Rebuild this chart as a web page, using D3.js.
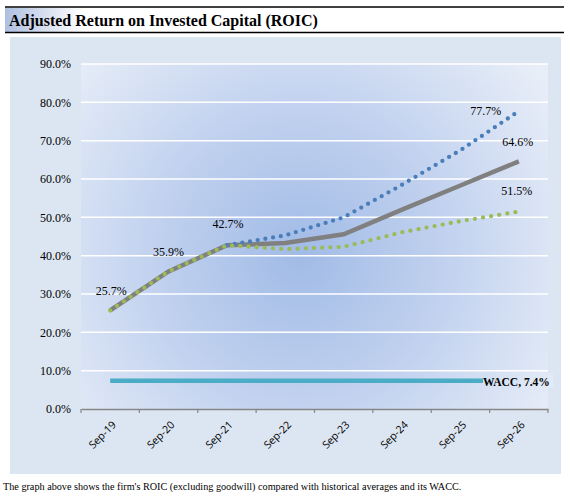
<!DOCTYPE html>
<html><head><meta charset="utf-8">
<script src="https://cdn.jsdelivr.net/npm/d3@7"></script>
<style>body{margin:0;background:#fff}svg{display:block}</style>
</head><body>
<script>
const categories = ["Sep-19","Sep-20","Sep-21","Sep-22","Sep-23","Sep-24","Sep-25","Sep-26"];
const roic = [25.7, 35.9, 42.7, 43.3, 45.6, 52.0, 58.3, 64.6];
const roicHigh = [null, null, 42.7, 45.3, 50.0, 58.5, 67.5, 77.7];
const roicLow = [25.7, 35.9, 42.7, 41.7, 42.3, 46.1, 49.0, 51.5];
const wacc = [7.4, 7.4, 7.4, 7.4, 7.4, 7.4, 7.4, 7.4];
const yTicks = [0,10,20,30,40,50,60,70,80,90];
const titleText = "Adjusted Return on Invested Capital (ROIC)";
const captionText = "The graph above shows the firm's ROIC (excluding goodwill) compared with historical averages and its WACC.";

const W = 570, H = 496;
const svg = d3.select("body").append("svg").attr("width", W).attr("height", H);
const defs = svg.append("defs");
const tg = defs.append("linearGradient").attr("id","tg").attr("x1","0").attr("x2","1").attr("y1","0").attr("y2","0");
tg.append("stop").attr("offset","0").attr("stop-color","#aebfe0");
tg.append("stop").attr("offset","0.14").attr("stop-color","#ffffff");
tg.append("stop").attr("offset","1").attr("stop-color","#ffffff");

const rg = defs.append("radialGradient").attr("id","rg").attr("gradientUnits","userSpaceOnUse")
  .attr("cx",300).attr("cy",255).attr("r",300);
rg.append("stop").attr("offset","0").attr("stop-color","#a1bbe6");
rg.append("stop").attr("offset","0.5").attr("stop-color","#c2d2ef");
rg.append("stop").attr("offset","1").attr("stop-color","#e8eef8");

// title
svg.append("rect").attr("x",5).attr("y",8).attr("width",559).attr("height",24).attr("fill","url(#tg)");
svg.append("line").attr("x1",5).attr("x2",564).attr("y1",7).attr("y2",7).attr("stroke","#000").attr("stroke-width",1.5);
svg.append("line").attr("x1",5).attr("x2",564).attr("y1",32.5).attr("y2",32.5).attr("stroke","#000").attr("stroke-width",1.5);
svg.append("text").attr("x",9).attr("y",26).attr("font-family","Liberation Serif").attr("font-weight","bold")
  .attr("font-size",16).attr("fill","#000").text(titleText);

// panel
svg.append("rect").attr("x",10).attr("y",37).attr("width",551).attr("height",437).attr("fill","#dce6f2");

const m = {l:81, r:548, t:64, b:409};
svg.append("rect").attr("x",m.l).attr("y",m.t).attr("width",m.r-m.l).attr("height",m.b-m.t).attr("fill","url(#rg)");

const x = d3.scaleBand().domain(categories).range([m.l, m.r]);
const y = d3.scaleLinear().domain([0,90]).range([m.b, m.t]);
const cx = d => x(d) + x.bandwidth()/2;

// gridlines
svg.append("g").selectAll("line").data(yTicks.filter(t=>t>0)).join("line")
  .attr("x1",m.l).attr("x2",m.r).attr("y1",d=>y(d)).attr("y2",d=>y(d))
  .attr("stroke","#fff").attr("stroke-width",1.5);

// y labels
svg.append("g").selectAll("text").data(yTicks).join("text")
  .attr("x",71).attr("y",d=>y(d)).attr("dy","0.35em").attr("text-anchor","end")
  .attr("font-family","Liberation Serif").attr("font-size",12).attr("fill","#000")
  .text(d=>d.toFixed(1)+"%");

// x axis
const xAxis = d3.axisBottom(x).tickSize(0).tickFormat("");
const gx = svg.append("g").attr("transform",`translate(0,${m.b})`).call(xAxis);
gx.select(".domain").attr("stroke","#868686").attr("stroke-width",1.5);
const edges = categories.map(c=>x(c)).concat([x(categories[categories.length-1])+x.bandwidth()]);
svg.append("g").selectAll("line").data(edges).join("line")
  .attr("x1",d=>d).attr("x2",d=>d).attr("y1",m.b).attr("y2",m.b+4)
  .attr("stroke","#868686").attr("stroke-width",1.2);
svg.append("g").selectAll("text").data(categories).join("text")
  .attr("transform",d=>`translate(${cx(d)+4},${m.b+14}) rotate(-45)`)
  .attr("text-anchor","end").attr("dy","0.35em")
  .attr("font-family","Open Sans").attr("font-size",10.5).attr("fill","#000")
  .text(d=>d);

const line = d3.line().defined(d=>d.v!=null).x(d=>cx(d.c)).y(d=>y(d.v));
const toPts = arr => arr.map((v,i)=>({c:categories[i], v}));

// WACC
svg.append("path").attr("d",line(toPts(wacc))).attr("fill","none").attr("stroke","#4bacc6").attr("stroke-width",4.5);
// ROIC
svg.append("path").attr("d",line(toPts(roic))).attr("fill","none").attr("stroke","#808080").attr("stroke-width",4.5);
// high
svg.append("path").attr("d",line(toPts(roicHigh))).attr("fill","none").attr("stroke","#4a7ebb")
  .attr("stroke-width",4.3).attr("stroke-linecap","round").attr("stroke-dasharray","0,7.8");
// low
svg.append("path").attr("d",line(toPts(roicLow))).attr("fill","none").attr("stroke","#9bbb59")
  .attr("stroke-width",4.3).attr("stroke-linecap","round").attr("stroke-dasharray","0,8.2");

// data labels
const lab = (c, v, dx, dy, anchor) => svg.append("text")
  .attr("x",cx(c)+dx).attr("y",y(v)+dy).attr("text-anchor",anchor||"middle").attr("dy","0.35em")
  .attr("font-family","Liberation Serif").attr("font-size",12).attr("fill","#000").text(v.toFixed(1)+"%");
lab(categories[0], roic[0], 1, -20);
lab(categories[1], roic[1], 0, -20);
lab(categories[2], roic[2], 1, -22);
lab(categories[7], roic[7], -1, -20);
lab(categories[7], roicHigh[7], -33, 0);
lab(categories[7], roicLow[7], -2, -21);

// WACC label with background
const wl = svg.append("g");
const wx = 483, wy = y(wacc[7]);
wl.append("rect").attr("x",wx).attr("y",wy-7).attr("width",70).attr("height",14).attr("fill","url(#rg)");
wl.append("text").attr("x",wx).attr("y",wy+1.5).attr("dy","0.35em")
  .attr("font-family","Liberation Serif").attr("font-weight","bold").attr("font-size",11.5).attr("fill","#000")
  .text("WACC, " + wacc[7].toFixed(1) + "%");

// caption
svg.append("text").attr("x",3).attr("y",490).attr("font-family","Liberation Serif").attr("font-size",10.2)
  .attr("fill","#000").text(captionText);
</script>
</body></html>
